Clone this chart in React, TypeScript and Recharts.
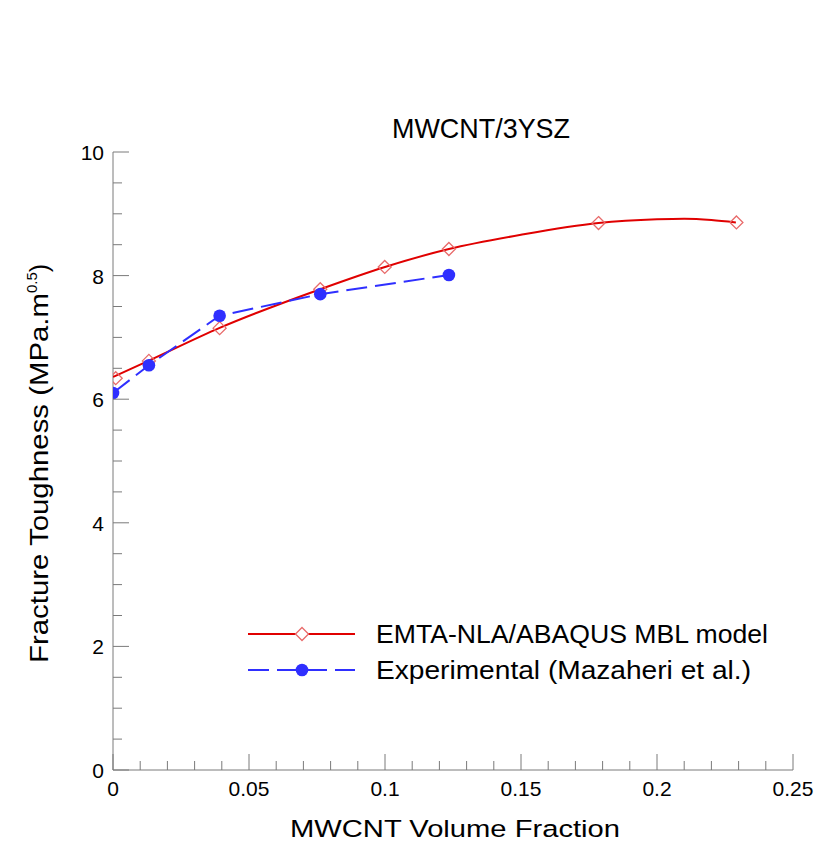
import React from 'react';
import { ScatterChart, Scatter, XAxis, YAxis, Legend, Customized } from 'recharts';

// Volume fraction (x) and fracture toughness (y) values
const modelCurveX = [0, 0.013, 0.039, 0.0762, 0.1, 0.1235, 0.15, 0.1785, 0.2, 0.21, 0.22, 0.229];
const modelCurveY = [6.36, 6.62, 7.15, 7.78, 8.14, 8.43, 8.66, 8.85, 8.91, 8.92, 8.9, 8.86];
const modelPointX = [0.001, 0.0132, 0.0392, 0.0762, 0.0999, 0.1235, 0.1785, 0.2292];
const modelPointY = [6.34, 6.62, 7.15, 7.78, 8.14, 8.43, 8.85, 8.86];
const expX = [0, 0.0132, 0.0392, 0.0762, 0.1235];
const expY = [6.1, 6.55, 7.35, 7.7, 8.01];

const xTicks = [0, 0.01, 0.02, 0.03, 0.04, 0.05, 0.06, 0.07, 0.08, 0.09, 0.1, 0.11, 0.12, 0.13, 0.14, 0.15, 0.16, 0.17, 0.18, 0.19, 0.2, 0.21, 0.22, 0.23, 0.24, 0.25];
const xMajorLabels = ['0', '0.05', '0.1', '0.15', '0.2', '0.25'];
const yTicks = [0, 0.5, 1, 1.5, 2, 2.5, 3, 3.5, 4, 4.5, 5, 5.5, 6, 6.5, 7, 7.5, 8, 8.5, 9, 9.5, 10];
const yMajorLabels = ['0', '2', '4', '6', '8', '10'];

const seriesNames = ['EMTA-NLA/ABAQUS MBL model', 'Experimental (Mazaheri et al.)'];
const titleText = 'MWCNT/3YSZ';
const xLabelText = 'MWCNT Volume Fraction';

const zip = (xs: number[], ys: number[]) => xs.map((x, i) => ({ x, y: ys[i] }));
const modelCurve = zip(modelCurveX, modelCurveY);
const modelPoints = zip(modelPointX, modelPointY);
const expPoints = zip(expX, expY);

const FONT = '"Liberation Sans", Arial, sans-serif';
const AXIS = '#7a7a7a';
const RED = '#e00000';
const RED_MARK = '#e86a6a';
const BLUE = '#2f2fff';

const W = 817;
const H = 841;
const M = { top: 152, left: 112, right: 24, bottom: 70 };

const isMajor = (v: number, labels: string[]) => labels.includes(String(v));

const XTick = (p: any) => {
  const v = p.payload.value;
  const major = isMajor(v, xMajorLabels);
  return (
    <g>
      <line x1={p.x} x2={p.x} y1={p.y} y2={p.y - (major ? 16 : 9)} stroke={AXIS} strokeWidth={1} />
      {major && (
        <text x={p.x} y={p.y + 26} textAnchor="middle" fontFamily={FONT} fontSize={21} fill="#000">
          {String(v)}
        </text>
      )}
    </g>
  );
};

const YTick = (p: any) => {
  const v = p.payload.value;
  const major = isMajor(v, yMajorLabels);
  return (
    <g>
      <line x1={p.x} x2={p.x + (major ? 16 : 9)} y1={p.y} y2={p.y} stroke={AXIS} strokeWidth={1} />
      {major && (
        <text x={p.x - 9} y={p.y + 8} textAnchor="end" fontFamily={FONT} fontSize={21} fill="#000">
          {String(v)}
        </text>
      )}
    </g>
  );
};

const Diamond = (p: any) => {
  const { cx, cy } = p;
  const r = 6.5;
  return (
    <path d={`M${cx},${cy - r}L${cx + r},${cy}L${cx},${cy + r}L${cx - r},${cy}Z`} fill="none" stroke={RED_MARK} strokeWidth={1.3} />
  );
};

const Dot = (p: any) => <circle cx={p.cx} cy={p.cy} r={6.3} fill={BLUE} />;
const NoMark = () => <g />;

const LegendBox = () => (
  <svg width={560} height={80} style={{ overflow: 'visible', display: 'block' }}>
    <line x1={0} x2={107} y1={14} y2={14} stroke={RED} strokeWidth={2} />
    <path d="M54,7.5L60.5,14L54,20.5L47.5,14Z" fill="#fff" stroke={RED_MARK} strokeWidth={1.3} />
    <text x={128} y={23} fontFamily={FONT} fontSize={25} textLength={392} lengthAdjust="spacingAndGlyphs" fill="#000">
      {seriesNames[0]}
    </text>
    <line x1={0} x2={107} y1={50} y2={50} stroke={BLUE} strokeWidth={2} strokeDasharray="21 8" />
    <circle cx={54} cy={50} r={6.3} fill={BLUE} />
    <text x={128} y={59} fontFamily={FONT} fontSize={25} textLength={375} lengthAdjust="spacingAndGlyphs" fill="#000">
      {seriesNames[1]}
    </text>
  </svg>
);

const Texts = () => (
  <g fontFamily={FONT} fill="#000">
    <text x={392} y={138} fontSize={28} textLength={178} lengthAdjust="spacingAndGlyphs">{titleText}</text>
    <text x={290} y={837} fontSize={24.5} textLength={330} lengthAdjust="spacingAndGlyphs">{xLabelText}</text>
    <text transform="translate(48,663) rotate(-90)" fontSize={25}>
      <tspan textLength={370} lengthAdjust="spacingAndGlyphs">Fracture Toughness (MPa.m</tspan>
      <tspan dy={-11} fontSize={15}>0.5</tspan>
      <tspan dy={11}>)</tspan>
    </text>
  </g>
);

export default function App() {
  return (
    <div style={{ position: 'absolute', left: 0, top: 0, background: '#fff' }}>
      <ScatterChart width={W} height={H} margin={M}>
        <XAxis
          type="number"
          dataKey="x"
          domain={[0, 0.25]}
          ticks={xTicks}
          interval={0}
          height={1}
          tickSize={0}
          tickMargin={0}
          tickLine={false}
          stroke={AXIS}
          tick={<XTick />}
          allowDataOverflow
        />
        <YAxis
          type="number"
          dataKey="y"
          domain={[0, 10]}
          ticks={yTicks}
          interval={0}
          width={1}
          tickSize={0}
          tickMargin={0}
          tickLine={false}
          stroke={AXIS}
          tick={<YTick />}
          allowDataOverflow
        />
        <Scatter
          name={seriesNames[0]}
          data={modelCurve}
          line={{ stroke: RED, strokeWidth: 2 }}
          lineJointType="monotoneX"
          shape={<NoMark />}
          isAnimationActive={false}
        />
        <Scatter
          name="model-points"
          data={modelPoints}
          shape={<Diamond />}
          isAnimationActive={false}
        />
        <Scatter
          name={seriesNames[1]}
          data={expPoints}
          line={{ stroke: BLUE, strokeWidth: 2, strokeDasharray: '21 8' }}
          shape={<Dot />}
          fill={BLUE}
          isAnimationActive={false}
        />
        <Legend
          layout="horizontal"
          verticalAlign="middle"
          align="center"
          content={<LegendBox />}
          wrapperStyle={{ position: 'absolute', left: 248, top: 620, width: 560 }}
        />
        <Customized component={<Texts />} />
      </ScatterChart>
    </div>
  );
}
